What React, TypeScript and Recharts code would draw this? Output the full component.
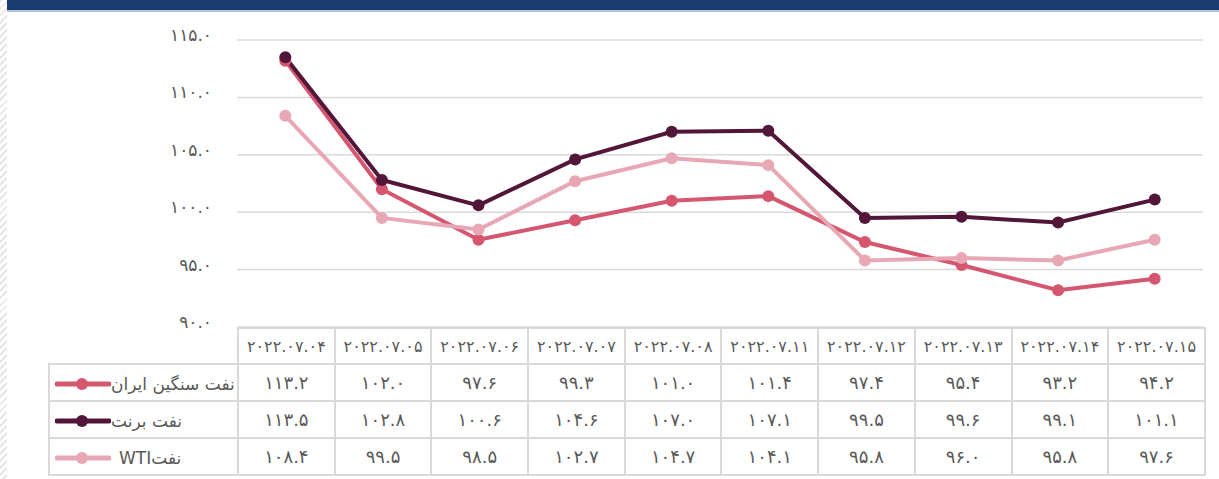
import React from "react"
import { LineChart, Line, XAxis, YAxis, CartesianGrid } from "recharts"

const dates = [
  "۲۰۲۲.۰۷.۰۴",
  "۲۰۲۲.۰۷.۰۵",
  "۲۰۲۲.۰۷.۰۶",
  "۲۰۲۲.۰۷.۰۷",
  "۲۰۲۲.۰۷.۰۸",
  "۲۰۲۲.۰۷.۱۱",
  "۲۰۲۲.۰۷.۱۲",
  "۲۰۲۲.۰۷.۱۳",
  "۲۰۲۲.۰۷.۱۴",
  "۲۰۲۲.۰۷.۱۵",
]
const iranHeavy = [113.2, 102.0, 97.6, 99.3, 101.0, 101.4, 97.4, 95.4, 93.2, 94.2]
const brent = [113.5, 102.8, 100.6, 104.6, 107.0, 107.1, 99.5, 99.6, 99.1, 101.1]
const wti = [108.4, 99.5, 98.5, 102.7, 104.7, 104.1, 95.8, 96.0, 95.8, 97.6]
const yTicks = [90, 95, 100, 105, 110, 115]

const series = [
  { key: "iran", name: "نفت سنگین ایران", values: iranHeavy, color: "#d4576f" },
  { key: "brent", name: "نفت برنت", values: brent, color: "#521638" },
  { key: "wti", name: "WTIنفت", values: wti, color: "#e8a7b4" },
]

const data = dates.map((d, i) => ({
  date: d,
  iran: iranHeavy[i],
  brent: brent[i],
  wti: wti[i],
}))

const fa = (n: number) =>
  n.toFixed(1).replace(/\d/g, (c) => "۰۱۲۳۴۵۶۷۸۹"[Number(c)])

const FONT = "'DejaVu Sans', sans-serif"
const GRID = "#d9d9d9"
const TEXT = "#595959"

function YTick(props: any) {
  const { y, payload } = props
  return (
    <text x={212} y={y - 4} textAnchor="end" dominantBaseline="middle" fill={TEXT} fontSize={17} fontFamily={FONT}>
      {fa(payload.value)}
    </text>
  )
}

const cell: React.CSSProperties = {
  border: `2px solid ${GRID}`,
  textAlign: "center",
  padding: 0,
  color: TEXT,
  fontSize: 18,
  fontFamily: FONT,
}

export default function App() {
  return (
    <div style={{ position: "absolute", left: 0, top: 0, width: 1219, height: 479, background: "#fff", overflow: "hidden" }}>
      <div
        style={{
          position: "absolute",
          left: 0,
          top: 0,
          width: 7,
          height: 479,
          background: "repeating-linear-gradient(135deg, #e6e6e6 0 2px, #ffffff 2px 5px)",
        }}
      />
      <div style={{ position: "absolute", left: 7, top: 0, right: 0, height: 10, background: "#1c3b6f" }} />
      <div style={{ position: "absolute", left: 7, top: 10, right: 0, height: 2, background: "#b7c2d4" }} />

      <div style={{ position: "absolute", left: 0, top: 0 }}>
        <LineChart width={1219} height={345} data={data} margin={{ top: 40, right: 16, bottom: 18, left: 0 }}>
          <CartesianGrid horizontal vertical={false} stroke={GRID} strokeWidth={1.5} />
          <XAxis dataKey="date" hide padding={{ left: 48.3, right: 48.3 }} />
          <YAxis
            width={237}
            domain={[90, 115]}
            ticks={yTicks}
            interval={0}
            axisLine={false}
            tickLine={false}
            tick={<YTick />}
          />
          {series.map((s) => (
            <Line
              key={s.key}
              dataKey={s.key}
              stroke={s.color}
              strokeWidth={4}
              dot={{ r: 6, fill: s.color, stroke: s.color, strokeWidth: 0 }}
              type="linear"
              isAnimationActive={false}
            />
          ))}
        </LineChart>
      </div>

      <table
        style={{
          position: "absolute",
          left: 48,
          top: 327,
          width: 1156,
          borderCollapse: "collapse",
          tableLayout: "fixed",
          background: "transparent",
        }}
      >
        <colgroup>
          <col style={{ width: 189 }} />
          {dates.map((d) => (
            <col key={d} style={{ width: 96.7 }} />
          ))}
        </colgroup>
        <tbody>
          <tr style={{ height: 36 }}>
            <td style={{ ...cell, borderTop: "none", borderLeft: "none" }} />
            {dates.map((d) => (
              <td key={d} style={{ ...cell, fontSize: 16, whiteSpace: "nowrap", background: "#fff" }}>
                {d}
              </td>
            ))}
          </tr>
          {series.map((s) => (
            <tr key={s.key} style={{ height: 37, background: "#fff" }}>
              <td style={{ ...cell, textAlign: "left", paddingLeft: 5, whiteSpace: "nowrap" }}>
                <svg width={56} height={14} style={{ verticalAlign: "middle" }}>
                  <line x1={2} y1={7} x2={54} y2={7} stroke={s.color} strokeWidth={5} strokeLinecap="round" />
                  <circle cx={27} cy={7} r={6} fill={s.color} />
                </svg>
                <span style={{ fontSize: 17, marginLeft: s.key === "wti" ? 8 : 0, verticalAlign: "middle" }}>{s.name}</span>
              </td>
              {s.values.map((v, i) => (
                <td key={i} style={cell}>
                  {fa(v)}
                </td>
              ))}
            </tr>
          ))}
        </tbody>
      </table>
    </div>
  )
}
